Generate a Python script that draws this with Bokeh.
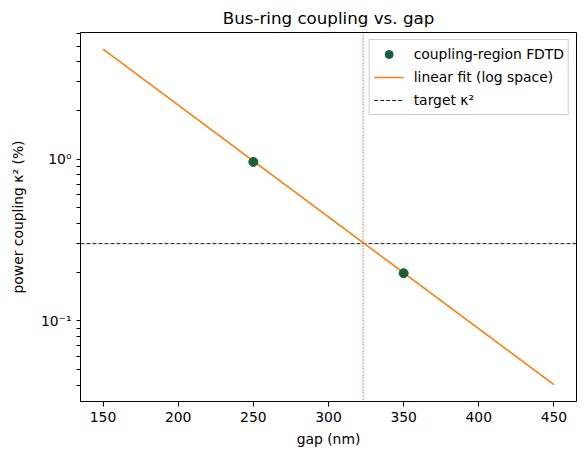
from bokeh.plotting import figure
from bokeh.models import (Span, Legend, LegendItem, CustomJSTickFormatter,
                          Range1d, FixedTicker)
from bokeh.embed import file_html
from bokeh.resources import INLINE

# data
gap_fdtd = [250, 350]
kappa_fdtd = [0.96, 0.197]
gap_fit = [150, 450]
kappa_fit = [4.78, 0.0403]
target_kappa = 0.3
target_gap = 323.0
x_ticks = [150, 200, 250, 300, 350, 400, 450]
y_ticks = [0.04, 0.05, 0.06, 0.07, 0.08, 0.09, 0.1,
           0.2, 0.3, 0.4, 0.5, 0.6, 0.7, 0.8, 0.9, 1.0,
           2.0, 3.0, 4.0, 5.0, 6.0]

X_LO, X_HI = 135, 465
FONT = "DejaVu Sans"
FS = "13.9px"

p = figure(width=586, height=455, output_backend="svg", toolbar_location=None,
           y_axis_type="log",
           x_range=Range1d(X_LO, X_HI), y_range=Range1d(0.0317, 6.06),
           frame_width=496, frame_height=369,
           min_border_left=80, min_border_right=10,
           min_border_top=32, min_border_bottom=54,
           title="Bus-ring coupling vs. gap")
p.title.align = "center"
p.title.text_font = FONT
p.title.text_font_size = "16.7px"
p.title.text_font_style = "normal"
p.title.text_color = "black"

p.grid.visible = False
p.outline_line_color = "black"
p.outline_line_width = 1
p.background_fill_color = "white"
p.border_fill_color = "white"

for ax in (p.xaxis[0], p.yaxis[0]):
    ax.axis_label_text_font = FONT
    ax.axis_label_text_font_size = FS
    ax.axis_label_text_font_style = "normal"
    ax.axis_label_text_color = "black"
    ax.major_label_text_font = FONT
    ax.major_label_text_font_size = FS
    ax.major_label_text_color = "black"
    ax.major_tick_in = 0
    ax.major_tick_out = 5
    ax.axis_line_color = None
    ax.major_tick_line_color = "black"
    ax.minor_tick_line_color = None

p.xaxis.axis_label = "gap (nm)"
p.xaxis.ticker = FixedTicker(ticks=x_ticks)
p.xaxis.axis_label_standoff = 6

yax = p.yaxis[0]
yax.axis_label = "power coupling κ² (%)"
yax.axis_label_standoff = 12
yax.major_tick_out = 4
yax.ticker = FixedTicker(ticks=y_ticks)
yax.formatter = CustomJSTickFormatter(code="""
const l = Math.log10(tick);
const e = Math.round(l);
if (Math.abs(l - e) > 1e-6) { return ''; }
const sup = {'-':'\u207b','0':'\u2070','1':'\u00b9','2':'\u00b2','3':'\u00b3','4':'\u2074','5':'\u2075','6':'\u2076','7':'\u2077','8':'\u2078','9':'\u2079'};
return '10' + String(e).split('').map(c => sup[c]).join('');
""")

vspan = Span(location=target_gap, dimension="height", line_color="#a01818",
             line_dash="1 2", line_width=1)
p.add_layout(vspan)

r_tgt = p.line([X_LO, X_HI], [target_kappa, target_kappa], line_color="black",
               line_dash="4 2", line_width=0.9)
r_fit = p.line(gap_fit, kappa_fit, line_color="#ff7f0e", line_width=1.6)
r_pts = p.scatter(gap_fdtd, kappa_fdtd, size=9, fill_color="#16613a",
                  line_color="#16613a", marker="circle")

legend = Legend(items=[
    LegendItem(label="coupling-region FDTD", renderers=[r_pts]),
    LegendItem(label="linear fit (log space)", renderers=[r_fit]),
    LegendItem(label="target κ²", renderers=[r_tgt]),
], location="top_right")
legend.label_text_font = FONT
legend.label_text_font_size = FS
legend.label_text_color = "black"
legend.border_line_color = "#cccccc"
legend.border_line_alpha = 1
legend.background_fill_alpha = 0.8
legend.glyph_width = 30
legend.spacing = 3
legend.padding = 4
legend.margin = 7
legend.label_standoff = 10
p.add_layout(legend)

open("out.html", "w").write(file_html(p, INLINE))
